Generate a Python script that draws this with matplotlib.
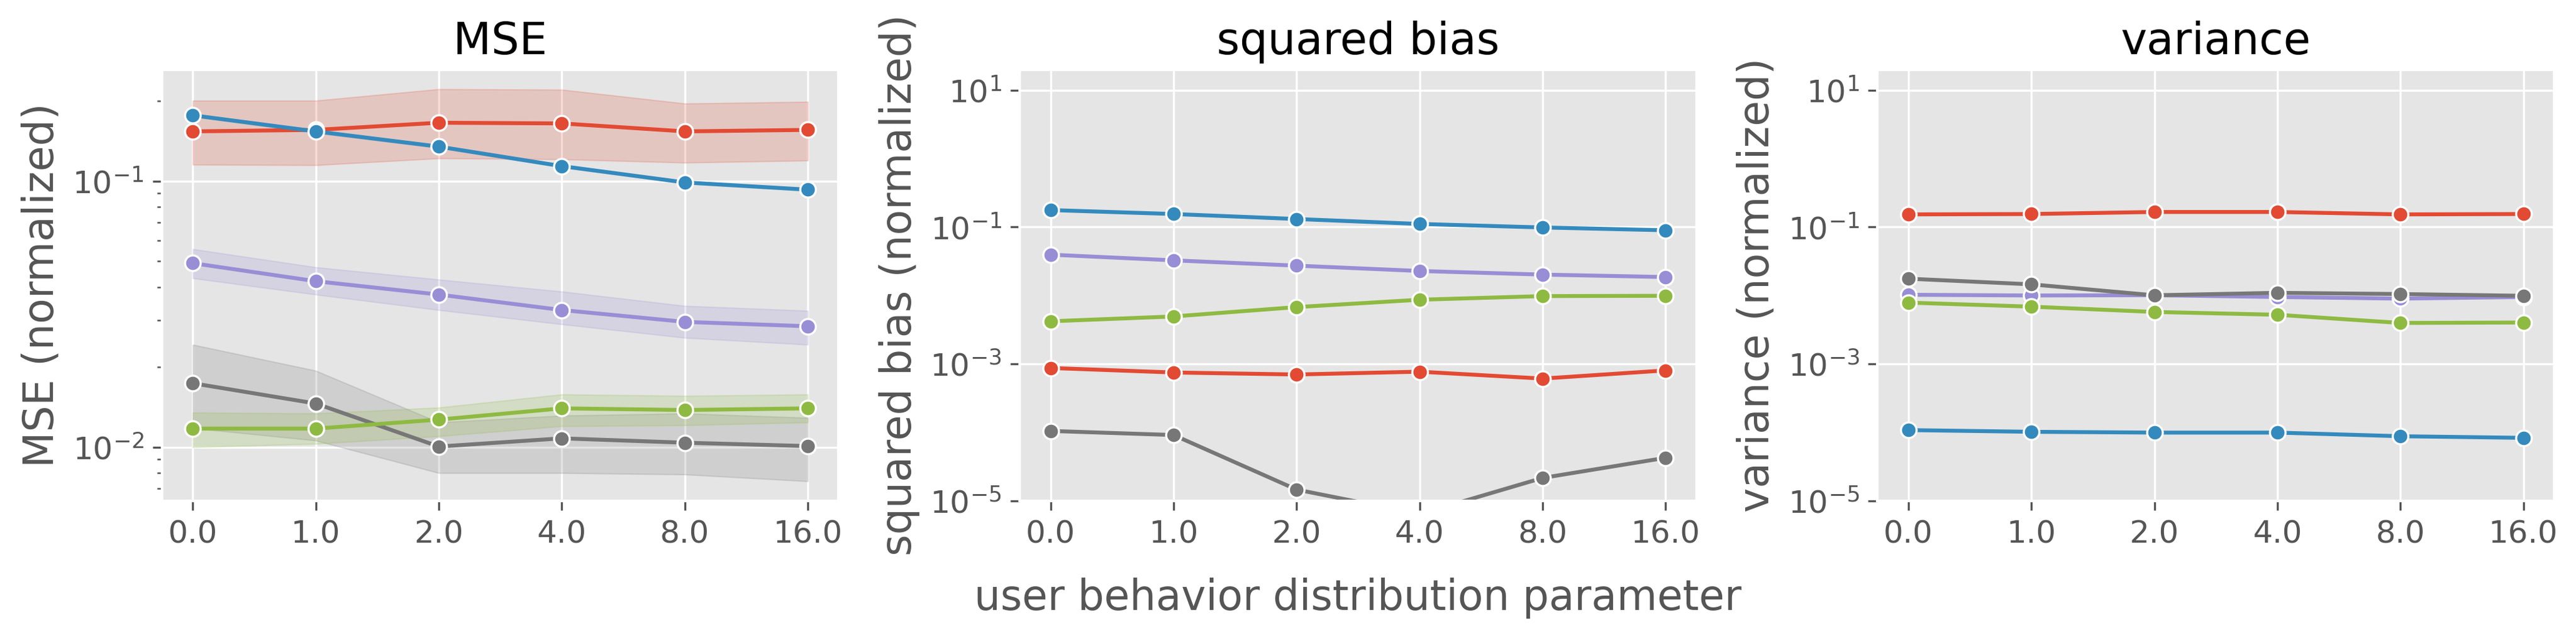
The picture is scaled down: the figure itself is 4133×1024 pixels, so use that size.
import numpy as np
import matplotlib
matplotlib.use('Agg')
import matplotlib.pyplot as plt

plt.style.use('ggplot')

x_labels = ['0.0', '1.0', '2.0', '4.0', '8.0', '16.0']
colors = ['#E24A33', '#348ABD', '#988ED5', '#777777', '#8EBA42']

# MSE (normalized), mean and band per series
mse_red = [0.154, 0.156, 0.166, 0.165, 0.154, 0.156]
mse_red_lo = [0.1155, 0.115, 0.122, 0.121, 0.1175, 0.1197]
mse_red_hi = [0.201, 0.201, 0.222, 0.221, 0.196, 0.199]
mse_blue = [0.177, 0.154, 0.135, 0.114, 0.099, 0.093]
mse_blue_lo = [0.175, 0.152, 0.1335, 0.1128, 0.098, 0.092]
mse_blue_hi = [0.179, 0.156, 0.1365, 0.1152, 0.100, 0.094]
mse_purple = [0.0492, 0.0421, 0.0375, 0.0328, 0.0296, 0.0285]
mse_purple_lo = [0.0432, 0.0375, 0.0328, 0.029, 0.0258, 0.0243]
mse_purple_hi = [0.0556, 0.0475, 0.0427, 0.0385, 0.034, 0.0326]
mse_gray = [0.0174, 0.0146, 0.01006, 0.0108, 0.0104, 0.0101]
mse_gray_lo = [0.0118, 0.0106, 0.0080, 0.0080, 0.0079, 0.00745]
mse_gray_hi = [0.0243, 0.0194, 0.0124, 0.01315, 0.0134, 0.0129]
mse_green = [0.01175, 0.01175, 0.0127, 0.014, 0.0138, 0.014]
mse_green_lo = [0.0100, 0.0103, 0.0110, 0.0120, 0.0121, 0.0124]
mse_green_hi = [0.0135, 0.0134, 0.0141, 0.0158, 0.0156, 0.0158]

# squared bias (normalized)
bias_red = [0.000873, 0.00075, 0.000701, 0.000771, 0.000611, 0.000804]
bias_blue = [0.177, 0.155, 0.131, 0.111, 0.0986, 0.0897]
bias_purple = [0.0395, 0.0326, 0.0273, 0.0228, 0.0202, 0.0186]
bias_gray = [0.000105, 0.0000915, 0.0000146, 0.0000064, 0.0000216, 0.0000425]
bias_green = [0.0042, 0.00494, 0.00677, 0.00867, 0.0098, 0.0099]

# variance (normalized)
var_red = [0.153, 0.155, 0.166, 0.166, 0.153, 0.155]
var_blue = [0.000108, 0.000102, 0.0000993, 0.0000993, 0.0000879, 0.0000832]
var_purple = [0.01025, 0.0100, 0.0101, 0.0095, 0.0090, 0.0095]
var_gray = [0.0176, 0.01455, 0.01007, 0.01094, 0.0105, 0.0099]
var_green = [0.00787, 0.00687, 0.00575, 0.00523, 0.00397, 0.00403]

xs = np.arange(len(x_labels))

fig, axes = plt.subplots(1, 3, figsize=(4133 / 300, 1024 / 300), dpi=300)
fig.subplots_adjust(left=0.0629, right=0.9915, bottom=0.215, top=0.891, wspace=0.268)

line_kw = dict(marker='o', lw=1.5, ms=6, mec='white', mew=0.8)

ax = axes[0]
mse_lines = [mse_red, mse_blue, mse_purple, mse_gray, mse_green]
mse_los = [mse_red_lo, mse_blue_lo, mse_purple_lo, mse_gray_lo, mse_green_lo]
mse_his = [mse_red_hi, mse_blue_hi, mse_purple_hi, mse_gray_hi, mse_green_hi]
for c, m, lo, hi in zip(colors, mse_lines, mse_los, mse_his):
    ax.fill_between(xs, lo, hi, color=c, alpha=0.2)
    ax.plot(xs, m, color=c, **line_kw)
ax.set_yscale('log')
ax.set_title('MSE', fontsize=17, color='black')
ax.set_ylabel('MSE (normalized)', fontsize=16)

ax = axes[1]
for c, m in zip(colors, [bias_red, bias_blue, bias_purple, bias_gray, bias_green]):
    ax.plot(xs, m, color=c, **line_kw)
ax.set_title('squared bias', fontsize=17, color='black')
ax.set_ylabel('squared bias (normalized)', fontsize=16)
ax.set_xlabel('user behavior distribution parameter', fontsize=16, labelpad=11)

ax = axes[2]
for c, m in zip(colors, [var_red, var_blue, var_purple, var_gray, var_green]):
    ax.plot(xs, m, color=c, **line_kw)
ax.set_title('variance', fontsize=17, color='black')
ax.set_ylabel('variance (normalized)', fontsize=16)

for ax in axes[1:]:
    ax.set_yscale('log')
    ax.set_ylim(1e-5, 20)
    ax.set_yticks([1e-5, 1e-3, 1e-1, 1e1])
    ax.yaxis.set_minor_locator(matplotlib.ticker.NullLocator())

for ax in axes:
    ax.set_xticks(xs)
    ax.set_xticklabels(x_labels)
    ax.tick_params(labelsize=12)

plt.savefig('out.png', dpi=300)
